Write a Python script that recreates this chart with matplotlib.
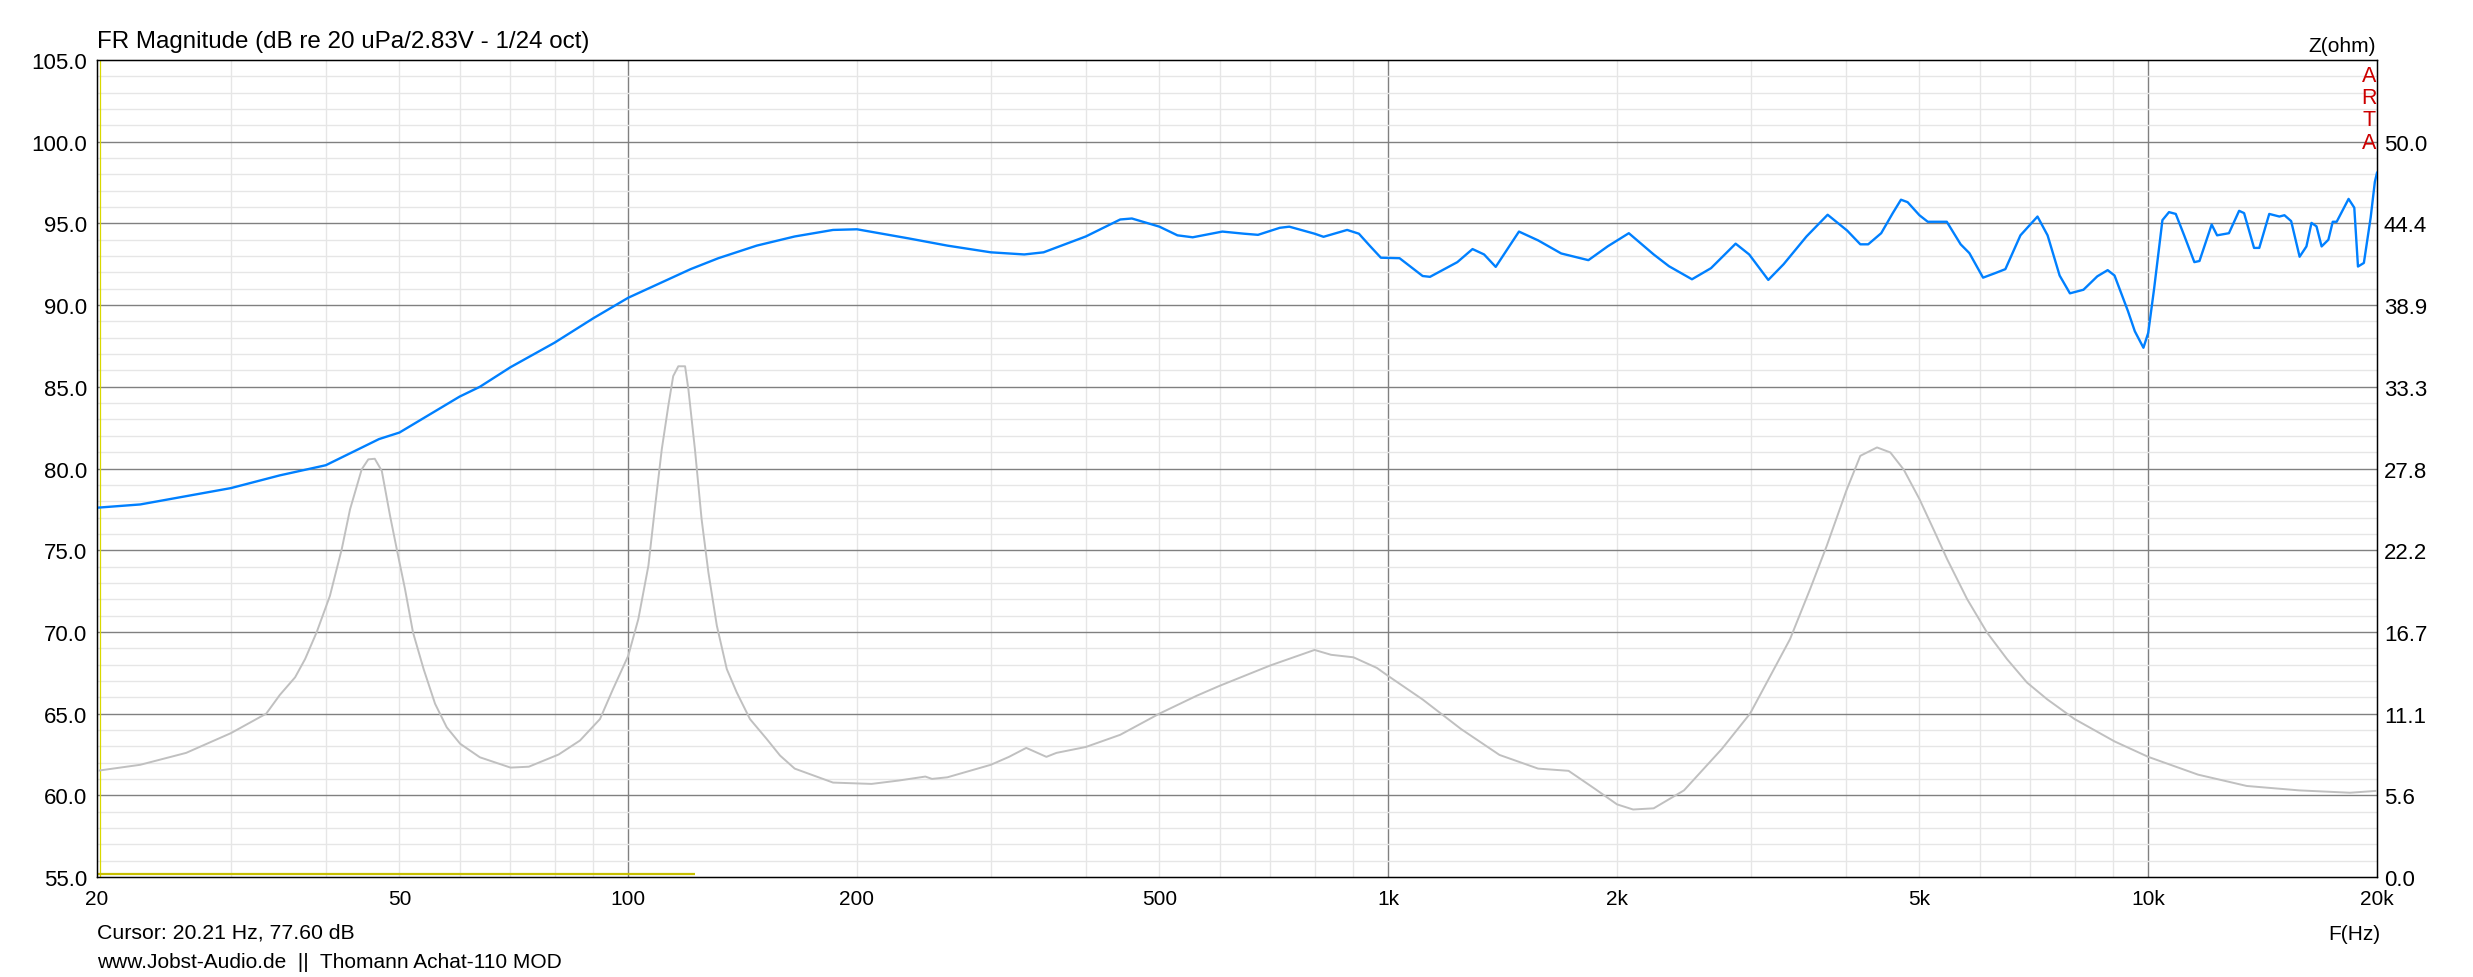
import matplotlib.pyplot as plt
import numpy as np

plt.rcParams['font.family'] = ['Liberation Sans', 'DejaVu Sans']

# SPL response in dB
fr_freq = [20, 22.8, 30, 34.8, 40, 47, 50, 60, 63.8, 70, 80, 90, 100, 120.8, 131.4,
           147.6, 165.6, 186, 200, 234, 263, 300, 332, 352, 400, 444, 460, 500,
           528, 553, 605, 646, 674, 720, 741, 800, 822, 883, 915, 947, 978, 1035,
           1110, 1135, 1233, 1291, 1337, 1385, 1486, 1575, 1689, 1834, 1945,
           2073, 2235, 2341, 2510, 2659, 2865, 2985, 3163, 3313, 3551, 3786,
           4017, 4180, 4281, 4453, 4612, 4728, 4824, 5000, 5128, 5432, 5665,
           5817, 6063, 6284, 6487, 6790, 7150, 7372, 7646, 7888, 8219, 8570,
           8844, 9030, 9405, 9602, 9856, 10000, 10180, 10440, 10650, 10870,
           11150, 11500, 11680, 12120, 12320, 12770, 13170, 13370, 13780, 14000,
           14430, 14880, 15110, 15420, 15820, 16150, 16400, 16650, 16910, 17260,
           17490, 17700, 18350, 18670, 18880, 19220, 19620, 19870, 20000]
fr_db = [77.6, 77.8, 78.8, 79.58, 80.2, 81.8, 82.2, 84.4, 85.0, 86.2, 87.7, 89.2,
         90.45, 92.2, 92.87, 93.64, 94.2, 94.6, 94.64, 94.08, 93.64, 93.23, 93.1,
         93.23, 94.2, 95.24, 95.3, 94.8, 94.27, 94.15, 94.5, 94.37, 94.3, 94.73,
         94.8, 94.37, 94.18, 94.6, 94.37, 93.6, 92.9, 92.87, 91.78, 91.73, 92.63,
         93.43, 93.1, 92.34, 94.5, 93.96, 93.16, 92.75, 93.6, 94.4, 93.1, 92.38,
         91.58, 92.26, 93.76, 93.1, 91.54, 92.5, 94.2, 95.53, 94.56, 93.72,
         93.72, 94.4, 95.63, 96.45, 96.3, 95.5, 95.1, 95.1, 93.72, 93.18, 91.68,
         91.95, 92.2, 94.27, 95.42, 94.27, 91.81, 90.72, 90.94, 91.76, 92.14,
         91.81, 89.63, 88.4, 87.39, 88.3, 91.0, 95.2, 95.69, 95.58, 94.27, 92.63,
         92.7, 94.93, 94.27, 94.4, 95.77, 95.63, 93.5, 93.5, 95.58, 95.42, 95.5,
         95.14, 92.96, 93.59, 95.03, 94.82, 93.59, 94.0, 95.1, 95.1, 96.5, 95.96,
         92.36, 92.58, 95.36, 97.54, 98.1]

# impedance magnitude in ohm
z_freq = [20, 22.8, 26.2, 30, 33.4, 34.8, 36.45, 37.57, 38.9, 40.5, 41.98, 43.05,
          44.6, 45.5, 46.4, 47.4, 48.6, 49.6, 50.86, 52.1, 53.8, 55.7, 57.7,
          60.1, 63.8, 70, 74, 81, 86.4, 91.8, 95.5, 100, 103.1, 106.3, 108.5,
          110.7, 112.9, 114.6, 116.4, 118.8, 120.0, 122.4, 124.9, 127.5, 130.8,
          134.8, 138.9, 144.6, 152.1, 158.4, 165.6, 186, 209, 227, 246, 251, 263,
          300, 317, 334, 355, 366, 400, 444, 500, 560, 600, 700, 800, 841, 900,
          966, 1000, 1110, 1247, 1401, 1575, 1727, 1870, 2000, 2100, 2235, 2450,
          2748, 2993, 3148, 3378, 3589, 3776, 4006, 4180, 4397, 4578, 4768, 5000,
          5222, 5438, 5778, 6137, 6521, 6927, 7360, 8000, 9030, 10000, 11630,
          13480, 15800, 18430, 20000]
z_ohm = [7.22, 7.63, 8.44, 9.78, 11.11, 12.38, 13.58, 14.82, 16.63, 19.11, 22.29,
         25.0, 27.72, 28.4, 28.44, 27.61, 24.56, 22.29, 19.56, 16.63, 14.14,
         11.78, 10.18, 9.06, 8.14, 7.44, 7.5, 8.33, 9.28, 10.74, 12.78, 15.04,
         17.53, 21.16, 25.23, 29.08, 32.02, 34.06, 34.73, 34.73, 33.16, 29.08,
         24.33, 20.71, 17.09, 14.14, 12.56, 10.74, 9.39, 8.26, 7.37, 6.42, 6.33,
         6.56, 6.83, 6.67, 6.78, 7.63, 8.17, 8.78, 8.17, 8.44, 8.84, 9.67, 11.11,
         12.33, 13.0, 14.39, 15.44, 15.11, 14.94, 14.22, 13.67, 12.07, 10.06, 8.3,
         7.37, 7.22, 6.0, 4.94, 4.59, 4.67, 5.89, 8.71, 11.11, 13.22, 16.17,
         19.56, 22.52, 26.26, 28.64, 29.21, 28.87, 27.7, 25.7, 23.6, 21.61,
         18.89, 16.62, 14.81, 13.22, 12.09, 10.74, 9.22, 8.17, 6.96, 6.19, 5.89,
         5.73, 5.86]

x_ticks = [20, 50, 100, 200, 500, 1000, 2000, 5000, 10000, 20000]
x_labels = ['20', '50', '100', '200', '500', '1k', '2k', '5k', '10k', '20k']
db_min, db_max = 55, 105
z_max = 500 / 9          # right scale: 0..50 ohm over 55..100 dB
cursor_f, cursor_db = 20.21, 77.60

W, H = 2473, 978
fig = plt.figure(figsize=(W / 100, H / 100), dpi=100)
ax = fig.add_axes([97 / W, 1 - 878 / H, 2280 / W, 817 / H])
ax.set_xscale('log')
ax.set_xlim(20, 20000)
ax.set_ylim(db_min, db_max)

# ARTA style grid: dark at decades / 5 dB, light in between
for dec in [10, 100, 1000, 10000]:
    for m in range(1, 10):
        f = dec * m
        if f <= 20 or f >= 20000:
            continue
        ax.axvline(f, color='#808080' if m == 1 else '#e6e6e6', lw=1.0, zorder=0)
for d in range(db_min + 1, db_max):
    ax.axhline(d, color='#808080' if d % 5 == 0 else '#e6e6e6', lw=1.0, zorder=0)

ax.set_xticks(x_ticks)
ax.set_xticklabels(x_labels)
ax.xaxis.set_minor_locator(plt.NullLocator())
ax.set_yticks(np.arange(db_min, db_max + 1, 5))
ax.set_yticklabels([f'{v:.1f}' for v in np.arange(db_min, db_max + 1, 5)])
ax.tick_params(axis='x', length=0, pad=9, labelsize=15)
ax.tick_params(axis='y', length=0, pad=7, labelsize=16)
for sp in ax.spines.values():
    sp.set_linewidth(1.0)

# cursor marks
ax.axvline(cursor_f, color='#d8d800', lw=0.9, zorder=1)
ax.hlines(55.18, 20, 122.5, color='#c8c000', lw=1.6, zorder=1)

ax.plot(fr_freq, fr_db, color='#0080ff', lw=1.7, zorder=3)

ax2 = ax.twinx()
ax2.set_ylim(0, z_max)
zt = np.arange(10) * 50 / 9
ax2.set_yticks(zt)
ax2.set_yticklabels([f'{v:.1f}' for v in zt])
ax2.tick_params(axis='y', length=0, pad=5, labelsize=16)
ax2.plot(z_freq, z_ohm, color='#c0c0c0', lw=1.4, zorder=2)

fig.text(97 / W, 1 - 42 / H, 'FR Magnitude (dB re 20 uPa/2.83V - 1/24 oct)',
         fontsize=17.4, ha='left', va='center')
fig.text(2376 / W, 1 - 47 / H, 'Z(ohm)', fontsize=15, ha='right', va='center')
for i, ch in enumerate('ARTA'):
    fig.text(2369 / W, 1 - (76 + 22.5 * i) / H, ch, fontsize=15.5, color='#cc0000',
             ha='center', va='center')
fig.text(2380 / W, 1 - 935 / H, 'F(Hz)', fontsize=15, ha='right', va='center')
fig.text(97 / W, 1 - 933 / H, f'Cursor: {cursor_f:.2f} Hz, {cursor_db:.2f} dB',
         fontsize=15.3, ha='left', va='center')
fig.text(97 / W, 1 - 963 / H, 'www.Jobst-Audio.de  ||  Thomann Achat-110 MOD',
         fontsize=15, ha='left', va='center')

fig.savefig('out.png', dpi=100)
